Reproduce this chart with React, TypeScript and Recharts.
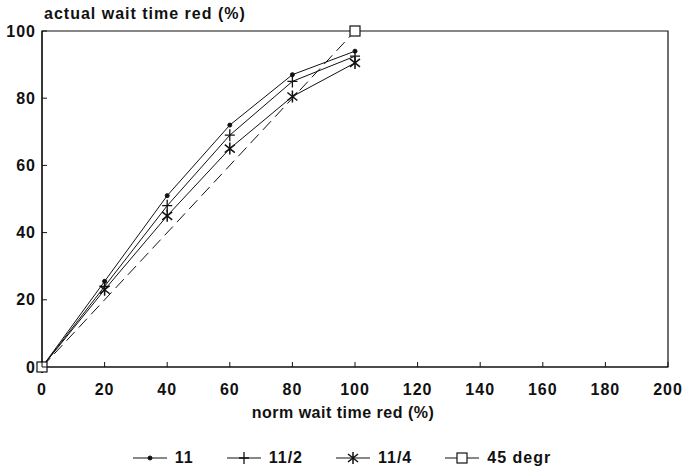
import { LineChart, Line, XAxis, YAxis, Legend, ReferenceArea } from "recharts";

const xTicks = [0, 20, 40, 60, 80, 100, 120, 140, 160, 180, 200];
const yTicks = [0, 20, 40, 60, 80, 100];

const normRed = [0, 20, 40, 60, 80, 100];
const s11 = [0, 25.5, 51, 72, 87, 94];
const s11half = [0, 24, 48, 69, 85, 92.5];
const s11quarter = [0, 23, 45, 65, 80.5, 90.5];
const diagX = [0, 100];
const diagY = [0, 100];

const toPoints = (xs: number[], ys: number[]) => xs.map((x, i) => ({ x, y: ys[i] }));

const FONT = "'Liberation Sans', Arial, sans-serif";
const INK = "#111";
const textStyle = { fontFamily: FONT, fontWeight: "bold", fontSize: 16, letterSpacing: 1 };

const dotMark = (cx: number, cy: number) => <circle cx={cx} cy={cy} r={2} fill={INK} stroke={INK} />;
const plusMark = (cx: number, cy: number) => (
  <path d={`M${cx - 5},${cy}h10M${cx},${cy - 6}v12`} stroke={INK} strokeWidth={1.3} fill="none" />
);
const starMark = (cx: number, cy: number) => (
  <path
    d={`M${cx},${cy - 6}v12M${cx - 5},${cy - 4}L${cx + 5},${cy + 4}M${cx - 5},${cy + 4}L${cx + 5},${cy - 4}`}
    stroke={INK}
    strokeWidth={1.5}
    fill="none"
  />
);
const squareMark = (cx: number, cy: number) => (
  <rect x={cx - 5} y={cy - 5} width={10} height={10} fill="#fff" stroke={INK} strokeWidth={1.2} />
);

const markers: Record<string, (cx: number, cy: number) => JSX.Element> = {
  "11": dotMark,
  "11/2": plusMark,
  "11/4": starMark,
  "45 degr": squareMark,
};

const makeDot = (name: string) => (props: any) => {
  const { cx, cy, index } = props;
  return <g key={`${name}-${index}`}>{markers[name](cx, cy)}</g>;
};

const XTick = ({ x, y, payload }: any) => (
  <g>
    <line x1={x} x2={x} y1={y} y2={y - 5} stroke={INK} />
    <text x={x} y={y + 22} textAnchor="middle" dominantBaseline="central" style={textStyle} fill={INK}>
      {payload.value}
    </text>
  </g>
);

const YTick = ({ x, y, payload }: any) => (
  <g>
    <line x1={x} x2={x + 5} y1={y} y2={y} stroke={INK} />
    <text x={x - 6} y={y} textAnchor="end" dominantBaseline="central" style={textStyle} fill={INK}>
      {payload.value}
    </text>
  </g>
);

const LegendContent = ({ payload }: any) => (
  <div style={{ display: "flex", justifyContent: "center", gap: 33, ...textStyle, color: INK }}>
    {(payload || []).map((p: any) => (
      <div key={p.value} style={{ display: "flex", alignItems: "center", gap: 8 }}>
        <svg width={34} height={16}>
          <line x1={0} x2={34} y1={8} y2={8} stroke={INK} strokeWidth={1} />
          {markers[p.value](17, 8)}
        </svg>
        <span>{p.value}</span>
      </div>
    ))}
  </div>
);

export default function App() {
  return (
    <div style={{ position: "absolute", left: 0, top: 0, background: "#fff" }}>
      <LineChart width={684} height={474} margin={{ top: 31, right: 16, bottom: 0, left: 0 }}>
        <XAxis
          type="number"
          dataKey="x"
          domain={[0, 200]}
          ticks={xTicks}
          height={107}
          tickSize={0}
          tickMargin={0}
          tick={<XTick />}
          axisLine={{ stroke: INK, strokeWidth: 1.2 }}
          tickLine={false}
          label={{
            content: () => (
              <text x={343} y={412} textAnchor="middle" dominantBaseline="central" style={{ ...textStyle, letterSpacing: 0.5 }} fill={INK}>
                norm wait time red (%)
              </text>
            ),
          }}
        />
        <YAxis
          type="number"
          dataKey="y"
          domain={[0, 100]}
          ticks={yTicks}
          width={42}
          tickSize={0}
          tickMargin={0}
          tick={<YTick />}
          axisLine={{ stroke: INK, strokeWidth: 1.2 }}
          tickLine={false}
          label={{
            content: ({ viewBox }: any) => (
              <text x={viewBox.x + viewBox.width + 2} y={viewBox.y - 12} style={textStyle} fill={INK}>
                actual wait time red (%)
              </text>
            ),
          }}
        />
        <ReferenceArea x1={0} x2={200} y1={0} y2={100} fill="none" stroke={INK} strokeWidth={1.2} ifOverflow="visible" />
        <Legend verticalAlign="middle" align="center" content={<LegendContent />} wrapperStyle={{ top: 449, left: 0, width: 684 }} />
        <Line data={toPoints(normRed, s11)} dataKey="y" name="11" stroke={INK} strokeWidth={1} dot={makeDot("11")} isAnimationActive={false} />
        <Line data={toPoints(normRed, s11half)} dataKey="y" name="11/2" stroke={INK} strokeWidth={1} dot={makeDot("11/2")} isAnimationActive={false} />
        <Line data={toPoints(normRed, s11quarter)} dataKey="y" name="11/4" stroke={INK} strokeWidth={1} dot={makeDot("11/4")} isAnimationActive={false} />
        <Line data={toPoints(diagX, diagY)} dataKey="y" name="45 degr" stroke={INK} strokeWidth={1} strokeDasharray="12 6" dot={makeDot("45 degr")} isAnimationActive={false} />
      </LineChart>
    </div>
  );
}
